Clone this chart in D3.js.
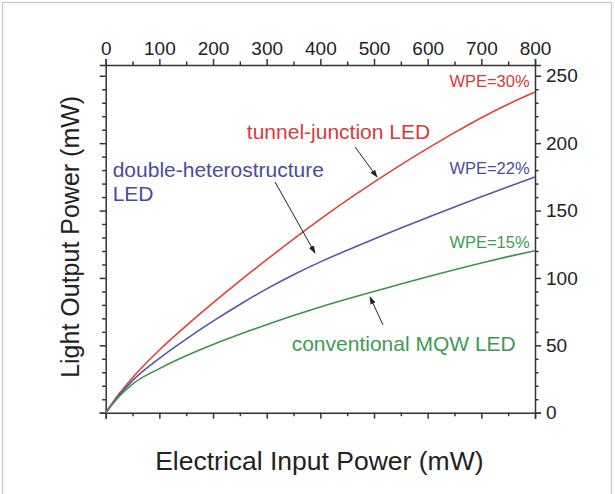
<!DOCTYPE html>
<html>
<head>
<meta charset="utf-8">
<script src="https://cdn.jsdelivr.net/npm/d3@7"></script>
<style>
  html, body { margin: 0; padding: 0; background: #fff; }
  svg { display: block; font-family: "Liberation Sans", Arial, sans-serif; }
</style>
</head>
<body>
<svg id="chart" width="615" height="494"></svg>
<script>
// ---- data ----
const inputPower = [0, 25, 50, 100, 150, 200, 250, 300, 350, 400, 450, 500, 550, 600, 650, 700, 750, 800];
const tunnelJunction  = [0, 14, 26, 46.5, 64.5, 81.5, 97.8, 113.5, 128.8, 143.6, 157.7, 171.1, 183.9, 196.1, 207.8, 218.9, 228.9, 237.9];
const doubleHetero    = [0, 13, 23.8, 40.3, 54.6, 67.9, 80.3, 91.9, 102.4, 111.9, 120.6, 128.9, 137, 144.9, 152.7, 160.3, 167.7, 174.9];
const conventionalMQW = [0, 12, 21.2, 32.7, 42.2, 50.6, 58.2, 65.3, 72.1, 78.5, 84.4, 90, 95.5, 100.9, 106.1, 111.1, 115.8, 120.2];
const xTickLabels = [0, 100, 200, 300, 400, 500, 600, 700, 800];
const yTickLabels = [0, 50, 100, 150, 200, 250];
const seriesNames = ["tunnel-junction LED", "double-heterostructure LED", "conventional MQW LED"];
const wpeLabels = ["WPE=30%", "WPE=22%", "WPE=15%"];

// ---- layout ----
const plot = { left: 105.7, right: 535, top: 65, bottom: 412.7 };
const colors = ["#e2413b", "#5656a8", "#3d9449"];
const textColors = ["#d83a3a", "#4b4b9e", "#3f9a52"];
const axisColor = "#333";

const svg = d3.select("#chart");

// outer frame
svg.append("rect").attr("x", 2.5).attr("y", 2.5).attr("width", 609).attr("height", 500)
  .attr("fill", "none").attr("stroke", "#c8c8c8").attr("stroke-width", 1.2);

const x = d3.scaleLinear().domain([0, 800]).range([plot.left, plot.right]);
const y = d3.scaleLinear().domain([0, 258]).range([plot.bottom, plot.top]);

const minorX = d3.range(0, 801, 50).filter(v => v % 100 !== 0);
const minorY = d3.range(0, 258, 10).filter(v => v % 50 !== 0);

function styleAxis(g) {
  g.selectAll("path").attr("stroke", axisColor).attr("stroke-width", 1.5);
  g.selectAll("line").attr("stroke", axisColor).attr("stroke-width", 1.5);
  g.selectAll("text").attr("fill", "#222").attr("font-size", 19)
    .attr("font-family", '"Liberation Sans", Arial, sans-serif');
}

// top axis (labels)
svg.append("g").attr("transform", `translate(0,${plot.top})`)
  .call(d3.axisTop(x).tickValues(xTickLabels).tickSize(6).tickPadding(4).tickFormat(d3.format("d")))
  .call(styleAxis);
svg.append("g").attr("transform", `translate(0,${plot.top})`)
  .call(d3.axisTop(x).tickValues(minorX).tickSize(3.5).tickFormat(""))
  .call(g => g.select(".domain").remove()).call(styleAxis);

// bottom axis (no labels)
svg.append("g").attr("transform", `translate(0,${plot.bottom})`)
  .call(d3.axisBottom(x).tickValues(xTickLabels).tickSize(6).tickFormat(""))
  .call(styleAxis);
svg.append("g").attr("transform", `translate(0,${plot.bottom})`)
  .call(d3.axisBottom(x).tickValues(minorX).tickSize(3.5).tickFormat(""))
  .call(g => g.select(".domain").remove()).call(styleAxis);

// left axis (no labels)
svg.append("g").attr("transform", `translate(${plot.left},0)`)
  .call(d3.axisLeft(y).tickValues(yTickLabels).tickSize(6).tickFormat(""))
  .call(styleAxis);
svg.append("g").attr("transform", `translate(${plot.left},0)`)
  .call(d3.axisLeft(y).tickValues(minorY).tickSize(3.5).tickFormat(""))
  .call(g => g.select(".domain").remove()).call(styleAxis);

// right axis (labels)
svg.append("g").attr("transform", `translate(${plot.right},0)`)
  .call(d3.axisRight(y).tickValues(yTickLabels).tickSize(6).tickPadding(5).tickFormat(d3.format("d")))
  .call(styleAxis);
svg.append("g").attr("transform", `translate(${plot.right},0)`)
  .call(d3.axisRight(y).tickValues(minorY).tickSize(3.5).tickFormat(""))
  .call(g => g.select(".domain").remove()).call(styleAxis);

// curves
const seriesData = [tunnelJunction, doubleHetero, conventionalMQW];
const line = d3.line().x(d => x(d[0])).y(d => y(d[1])).curve(d3.curveMonotoneX);
seriesData.forEach((vals, i) => {
  svg.append("path")
    .datum(inputPower.map((p, j) => [p, vals[j]]))
    .attr("d", line)
    .attr("fill", "none")
    .attr("stroke", colors[i])
    .attr("stroke-width", 1.6);
});

// annotation anchors in data units
const labelPos = [[263, 203], [13, 174.9], [346.6, 45.8]];
const wpePos = [[790, 241.7], [790, 177.1], [790, 122.2]];
const arrowFrom = [[464.6, 197.2], [315.5, 171.2], [516.8, 65.1]];
const arrowTo = [[505.6, 174.9], [390, 118.5], [492.5, 85.9]];

// series labels
seriesNames.forEach((name, i) => {
  const t = svg.append("text")
    .attr("x", x(labelPos[i][0])).attr("y", y(labelPos[i][1]))
    .attr("fill", textColors[i]).attr("font-size", 21);
  if (i === 1) {
    t.append("tspan").attr("x", x(labelPos[i][0])).text("double-heterostructure");
    t.append("tspan").attr("x", x(labelPos[i][0])).attr("dy", 24).text("LED");
  } else {
    t.text(name);
  }
});

// WPE labels
wpeLabels.forEach((lab, i) => {
  svg.append("text")
    .attr("x", x(wpePos[i][0])).attr("y", y(wpePos[i][1]))
    .attr("text-anchor", "end")
    .attr("fill", textColors[i]).attr("font-size", 16.5)
    .text(lab);
});

// arrows
svg.append("defs").append("marker")
  .attr("id", "ah").attr("viewBox", "0 0 10 10").attr("refX", 9).attr("refY", 5)
  .attr("markerWidth", 8).attr("markerHeight", 8).attr("orient", "auto")
  .append("path").attr("d", "M0,1.5 L10,5 L0,8.5 Z").attr("fill", "#222");
arrowFrom.forEach((f, i) => {
  svg.append("line")
    .attr("x1", x(f[0])).attr("y1", y(f[1]))
    .attr("x2", x(arrowTo[i][0])).attr("y2", y(arrowTo[i][1]))
    .attr("stroke", "#222").attr("stroke-width", 1)
    .attr("marker-end", "url(#ah)");
});

// axis titles
svg.append("text")
  .attr("transform", `translate(79, ${(plot.top + plot.bottom) / 2 - 2}) rotate(-90)`)
  .attr("text-anchor", "middle").attr("font-size", 25).attr("fill", "#222")
  .text("Light Output Power (mW)");
svg.append("text")
  .attr("x", (plot.left + plot.right) / 2 - 1).attr("y", 470)
  .attr("text-anchor", "middle").attr("font-size", 26.5).attr("fill", "#222")
  .text("Electrical Input Power (mW)");
</script>
</body>
</html>
